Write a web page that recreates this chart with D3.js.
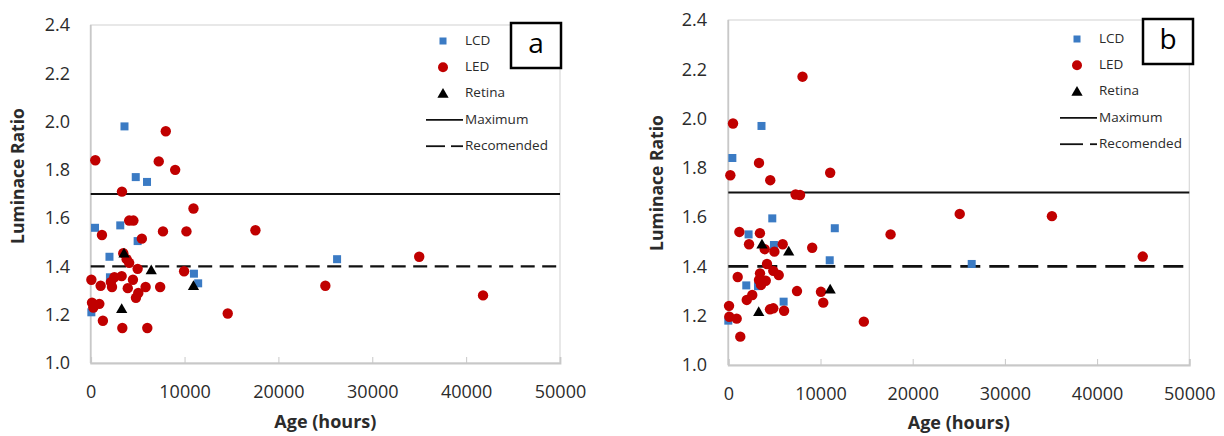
<!DOCTYPE html>
<html>
<head>
<meta charset="utf-8">
<script src="https://cdn.jsdelivr.net/npm/d3@7"></script>
<style>
  body { margin: 0; background: #fff; }
  text { font-family: "Open Sans", sans-serif; }
</style>
</head>
<body>
<script>
// axis ticks and reference levels
const xTicks = [0, 10000, 20000, 30000, 40000, 50000];
const yTicks = [1.0, 1.2, 1.4, 1.6, 1.8, 2.0, 2.2, 2.4];
const maximumRatio = 1.7;
const recomendedRatio = 1.4;
const legendLabels = ["LCD", "LED", "Retina", "Maximum", "Recomended"];

// panel a  [age hours, luminance ratio]
const lcdA = [[3600, 1.98], [4800, 1.77], [6000, 1.75], [460, 1.56], [3150, 1.57], [5000, 1.505],
  [2000, 1.44], [2050, 1.355], [11000, 1.37], [11450, 1.33], [70, 1.21], [26250, 1.43]];
const ledA = [[8000, 1.96], [490, 1.84], [7250, 1.835], [9000, 1.80], [3330, 1.71], [10950, 1.64],
  [4100, 1.59], [4550, 1.59], [1200, 1.53], [5450, 1.515], [7700, 1.545], [10200, 1.545],
  [3470, 1.455], [3830, 1.43], [4100, 1.415], [5000, 1.39], [9950, 1.38], [70, 1.345],
  [1060, 1.32], [2150, 1.335], [2520, 1.355], [3300, 1.36], [2270, 1.315], [4500, 1.345],
  [3950, 1.31], [5850, 1.315], [7400, 1.315], [5070, 1.29], [4820, 1.27], [140, 1.25],
  [920, 1.245], [280, 1.23], [1300, 1.175], [3370, 1.145], [6030, 1.145], [14600, 1.205],
  [17550, 1.55], [25000, 1.32], [35000, 1.44], [41800, 1.28]];
const retinaA = [[3550, 1.455], [6450, 1.385], [10950, 1.32], [3300, 1.225]];

// panel b
const lcdB = [[3600, 1.97], [440, 1.84], [4770, 1.595], [11550, 1.555], [2200, 1.53], [4950, 1.487],
  [11000, 1.425], [1950, 1.323], [3220, 1.32], [6000, 1.257], [0, 1.18], [26400, 1.41]];
const ledB = [[8050, 2.17], [510, 1.98], [3330, 1.82], [220, 1.77], [4550, 1.75], [11050, 1.78],
  [7300, 1.692], [7780, 1.69], [1200, 1.54], [3430, 1.535], [2250, 1.49], [3950, 1.47],
  [5000, 1.46], [5900, 1.49], [9100, 1.476], [4200, 1.41], [4880, 1.382], [5470, 1.365],
  [1020, 1.357], [3440, 1.372], [3330, 1.345], [4060, 1.342], [3550, 1.325], [2600, 1.284],
  [2000, 1.264], [7450, 1.30], [10050, 1.297], [10300, 1.253], [80, 1.24], [110, 1.196],
  [910, 1.188], [4520, 1.226], [4880, 1.23], [6050, 1.22], [1300, 1.115], [14700, 1.176],
  [17600, 1.53], [25100, 1.613], [35100, 1.604], [44950, 1.44]];
const retinaB = [[3650, 1.49], [6550, 1.462], [11050, 1.307], [3300, 1.216]];

const blue = "#3B7BC4", red = "#C00000", axisGrey = "#C8C8C8", labelColor = "#2b2b2b";

const svg = d3.select("body").append("svg")
    .attr("width", 1224)
    .attr("height", 436);

const panels = [
  { tag: "a", lcd: lcdA, led: ledA, retina: retinaA,
    left: 90.7, right: 560, top: 25, bottom: 363,
    yLabelX: 70, yTitle: [19, 176], xTitleY: 423,
    box: [511, 23], legend: [443, 41], recDash: [[426, 445], [451, 463]], plotDash: "14,7.5", dashW: 2.3 },
  { tag: "b", lcd: lcdB, led: ledB, retina: retinaB,
    left: 728.3, right: 1189.3, top: 20, bottom: 365,
    yLabelX: 707, yTitle: [658, 183], xTitleY: 424,
    box: [1143, 19], legend: [1077, 39], recDash: [[1060, 1083], [1090, 1097]], plotDash: "20,9", dashW: 2.8 }
];

const tri = d3.symbol().type(d3.symbolTriangle).size(55);

panels.forEach(p => {
  const x = d3.scaleLinear().domain([0, 50000]).range([p.left, p.right]);
  const y = d3.scaleLinear().domain([1.0, 2.4]).range([p.bottom, p.top]);
  const g = svg.append("g");

  // plot area frame
  g.append("rect")
      .attr("x", p.left).attr("y", p.top)
      .attr("width", p.right - p.left).attr("height", p.bottom - p.top)
      .attr("fill", "none").attr("stroke", "#D9D9D9").attr("stroke-width", 1.2);
  g.append("line")
      .attr("x1", p.left).attr("x2", p.left).attr("y1", p.top).attr("y2", p.bottom)
      .attr("stroke", axisGrey).attr("stroke-width", 1.8);

  // x axis
  const xAxis = g.append("g")
      .attr("transform", `translate(0,${p.bottom})`)
      .call(d3.axisBottom(x).tickValues(xTicks).tickSize(-6).tickPadding(22).tickFormat(d3.format("d")));
  xAxis.select(".domain").attr("stroke", axisGrey).attr("stroke-width", 1.8);
  xAxis.selectAll(".tick line").attr("stroke", axisGrey);
  xAxis.selectAll(".tick text").attr("fill", labelColor).style("font-size", "18px");

  // y axis labels
  const yAxis = g.append("g")
      .attr("transform", `translate(${p.yLabelX},0)`)
      .call(d3.axisLeft(y).tickValues(yTicks).tickSize(0).tickPadding(0).tickFormat(d3.format(".1f")));
  yAxis.select(".domain").remove();
  yAxis.selectAll(".tick text").attr("fill", labelColor).style("font-size", "18px");

  // titles
  g.append("text")
      .attr("x", (p.left + p.right) / 2).attr("y", p.xTitleY)
      .attr("text-anchor", "middle").attr("dominant-baseline", "middle")
      .attr("fill", labelColor).style("font-size", "18px").style("font-weight", "bold")
      .text("Age (hours)");
  g.append("text")
      .attr("transform", `translate(${p.yTitle[0]},${p.yTitle[1]}) rotate(-90)`)
      .attr("text-anchor", "middle").attr("dominant-baseline", "middle")
      .attr("fill", labelColor).style("font-size", "17.5px").style("font-weight", "bold")
      .text("Luminace Ratio");

  // reference lines
  g.append("line")
      .attr("x1", p.left).attr("x2", p.right)
      .attr("y1", y(maximumRatio)).attr("y2", y(maximumRatio))
      .attr("stroke", "#111").attr("stroke-width", 2);
  g.append("line")
      .attr("x1", p.left).attr("x2", p.right)
      .attr("y1", y(recomendedRatio)).attr("y2", y(recomendedRatio))
      .attr("stroke", "#111").attr("stroke-width", p.dashW)
      .attr("stroke-dasharray", p.plotDash);

  // markers
  g.selectAll(".lcd").data(p.lcd).enter().append("rect")
      .attr("class", "lcd")
      .attr("x", d => x(d[0]) - 4).attr("y", d => y(d[1]) - 4)
      .attr("width", 8).attr("height", 8)
      .attr("fill", blue);
  g.selectAll(".led").data(p.led).enter().append("circle")
      .attr("class", "led")
      .attr("cx", d => x(d[0])).attr("cy", d => y(d[1]))
      .attr("r", 5.2)
      .attr("fill", red);
  g.selectAll(".retina").data(p.retina).enter().append("path")
      .attr("class", "retina")
      .attr("transform", d => `translate(${x(d[0])},${y(d[1]) + 1})`)
      .attr("d", tri)
      .attr("fill", "#000");

  // legend
  const lx = p.legend[0], ly = p.legend[1], step = 26.3;
  const leg = g.append("g");
  leg.append("rect").attr("x", lx - 3.5).attr("y", ly - 3.5).attr("width", 7).attr("height", 7).attr("fill", blue);
  leg.append("circle").attr("cx", lx).attr("cy", ly + step).attr("r", 5).attr("fill", red);
  leg.append("path").attr("transform", `translate(${lx},${ly + 2 * step + 1})`).attr("d", tri).attr("fill", "#000");
  leg.append("line").attr("x1", lx - 17).attr("x2", lx + 20)
      .attr("y1", ly + 3 * step).attr("y2", ly + 3 * step)
      .attr("stroke", "#111").attr("stroke-width", 1.8);
  p.recDash.forEach(s => {
    leg.append("line").attr("x1", s[0]).attr("x2", s[1])
        .attr("y1", ly + 4 * step).attr("y2", ly + 4 * step)
        .attr("stroke", "#111").attr("stroke-width", 1.8);
  });
  leg.selectAll("text").data(legendLabels).enter().append("text")
      .attr("x", lx + 22).attr("y", (d, i) => ly + i * step)
      .attr("dominant-baseline", "middle")
      .attr("fill", labelColor).style("font-size", "13.5px")
      .text(d => d);

  // panel tag box
  g.append("rect")
      .attr("x", p.box[0]).attr("y", p.box[1]).attr("width", 50).attr("height", 45)
      .attr("fill", "#fff").attr("stroke", "#000").attr("stroke-width", 2.5);
  g.append("text")
      .attr("x", p.box[0] + 25).attr("y", p.box[1] + 23)
      .attr("text-anchor", "middle").attr("dominant-baseline", "middle")
      .attr("fill", "#000").style("font-size", "28px")
      .text(p.tag);
});
</script>
</body>
</html>
